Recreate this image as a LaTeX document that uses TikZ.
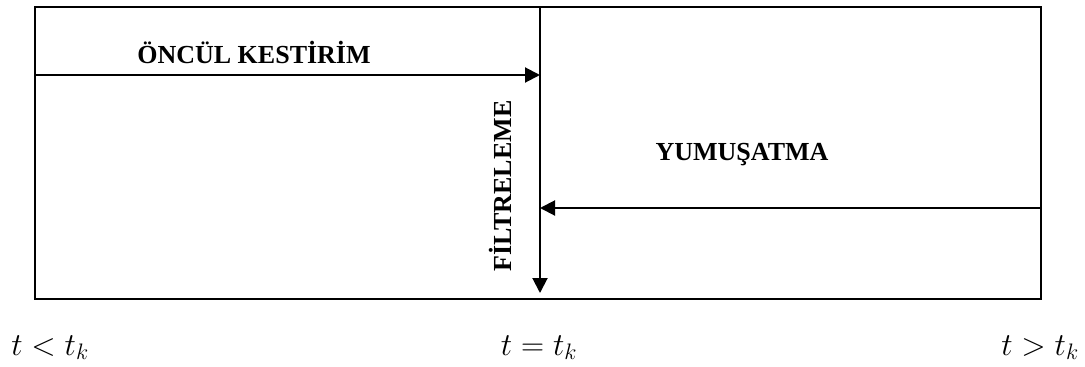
\RequirePackage{fix-cm}
\documentclass[tikz,border=0pt]{standalone}
\usepackage{fontspec}
\setmainfont{Liberation Serif}
\usetikzlibrary{arrows.meta}
\begin{document}
\begin{tikzpicture}[x=1pt,y=-1pt,
  frame/.style={draw, line width=2pt, inner sep=0pt},
  conn/.style={line width=2pt, -{Triangle[length=15pt,width=15pt]}},
  lbl/.style={font=\fontsize{26}{28}\selectfont\bfseries, inner sep=0pt},
  mlbl/.style={font=\fontsize{32}{34}\selectfont, inner sep=0pt, anchor=base}]
\useasboundingbox (0,0) rectangle (1085,367);
\node[frame, minimum width=1006pt, minimum height=292pt, anchor=north west] (box) at (34,6) {};
\coordinate (top) at (540,6);
\coordinate (bot) at (540,293);
\coordinate (l1) at (34,75);
\coordinate (m1) at (540,75);
\coordinate (r2) at (1040,208);
\coordinate (m2) at (540,208);
\draw[conn] (top) -- (bot);
\draw[conn] (l1) -- (m1);
\draw[conn] (r2) -- (m2);
\node[lbl] (pred) at (254,52) {ÖNCÜL KESTİRİM};
\node[lbl, rotate=90] (filt) at (500,186) {FİLTRELEME};
\node[lbl] (smooth) at (742,155) {YUMUŞATMA};
\node[mlbl] (tl) at (50,355) {$t<t_k$};
\node[mlbl] (te) at (539,355) {$t=t_k$};
\node[mlbl] (tg) at (1040,355) {$t>t_k$};
\end{tikzpicture}
\end{document}
